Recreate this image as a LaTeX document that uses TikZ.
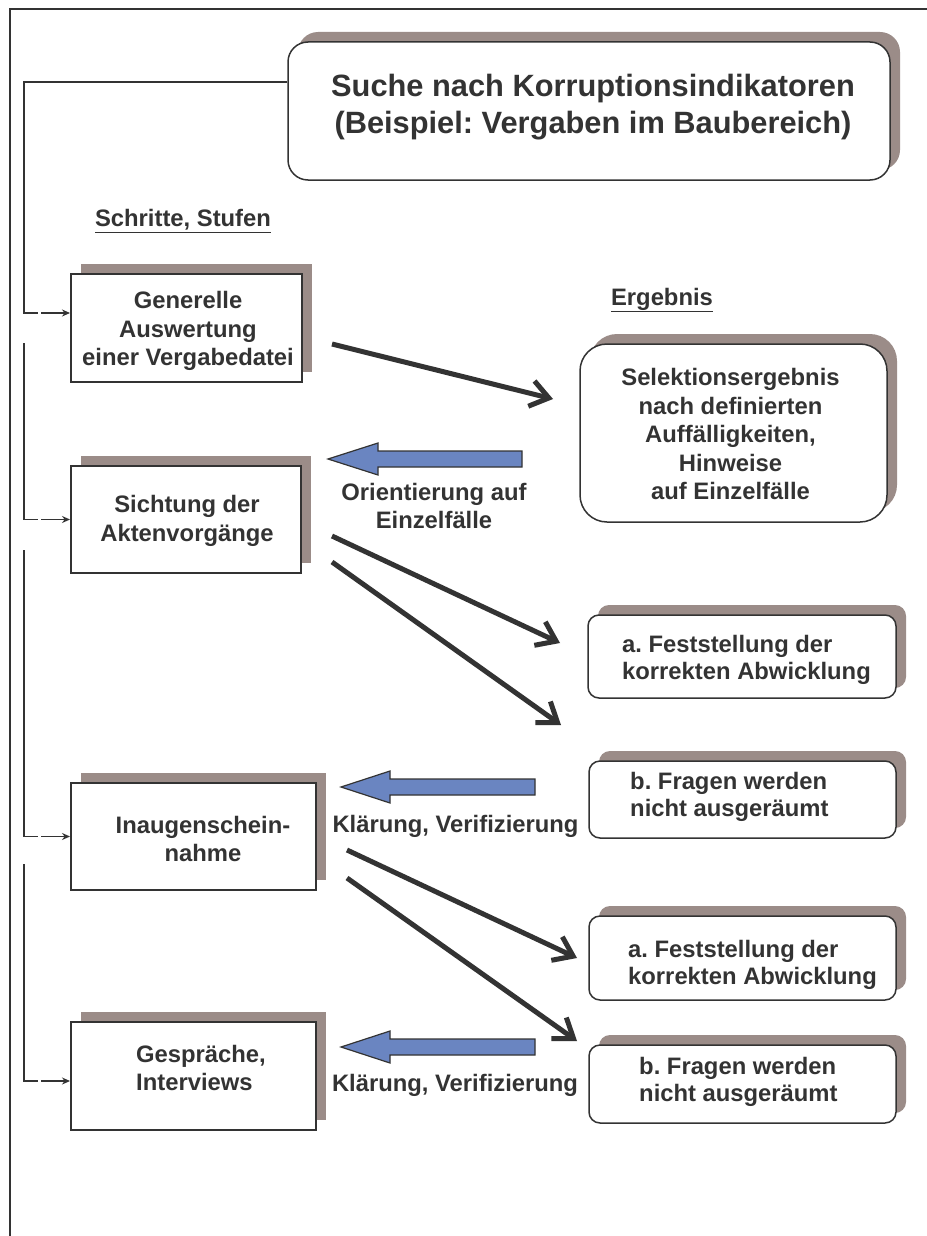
\documentclass[tikz,border=0pt]{standalone}
\usepackage{fontspec}
\setmainfont{Liberation Sans}
\usetikzlibrary{arrows.meta,shadows,calc}
\definecolor{ink}{HTML}{333333}
\definecolor{shade}{HTML}{9B8C88}
\definecolor{bluefill}{HTML}{6A85C1}
\frenchspacing
\begin{document}
\begin{tikzpicture}[x=1pt,y=-1pt,
  txt/.style={font=\fontsize{23.8}{28.5}\selectfont\bfseries\frenchspacing, text=ink, inner sep=0pt},
  abtxt/.style={font=\fontsize{23.8}{27}\selectfont\bfseries\frenchspacing, text=ink, inner sep=0pt, align=left, anchor=west},
  shd/.style={drop shadow={shadow xshift=10pt, shadow yshift=10pt, fill=shade, opacity=1}},
  stepbox/.style={shd, draw=ink, line width=2pt, fill=white, inner sep=0pt},
  resbox/.style={shd, draw=ink, line width=1.5pt, fill=white, inner sep=0pt, rounded corners=#1},
  conn/.style={draw=ink, line width=1.5pt},
  connarrow/.style={draw=ink, line width=1.5pt, -{Stealth[length=8pt,width=7pt]}},
  bigarrow/.style={draw=ink, line width=5pt, -{Straight Barb[length=18pt,width=26pt]}},
  bluearr/.style={draw=ink, line width=1.2pt, fill=bluefill, line join=miter}
]
\useasboundingbox (0,0) rectangle (926,1236);
\fill[white] (0,0) rectangle (926,1236);
% outer frame
\draw[ink, line width=2pt] (10,1240) -- (10,9) -- (930,9);

% title
\node[resbox=20pt, minimum width=602pt, minimum height=138pt] (title) at (589,111) {};
\node[txt, font=\fontsize{30.8}{37}\selectfont\bfseries\frenchspacing, align=center] (titletxt) at (593,107)
  {Suche nach Korruptionsindikatoren\\(Beispiel: Vergaben im Baubereich)};

% headers
\node[txt] (hdr1) at (183,221) {\underline{Schritte, Stufen}};
\node[txt] (hdr2) at (662,300) {\underline{Ergebnis}};

% step boxes
\node[stepbox, minimum width=231pt, minimum height=108pt] (gen) at (186.5,328) {};
\node[txt, align=center] (gentxt) at (188,331) {Generelle\\Auswertung\\einer Vergabedatei};
\node[stepbox, minimum width=230pt, minimum height=107pt] (sicht) at (186,519.5) {};
\node[txt, align=center] (sichttxt) at (187,521) {Sichtung der\\Aktenvorgänge};
\node[stepbox, minimum width=245pt, minimum height=107pt] (insp) at (193.5,836.5) {};
\node[txt, align=center] (insptxt) at (203,839) {Inaugenschein-\\nahme};
\node[stepbox, minimum width=245pt, minimum height=108pt] (gesp) at (193.5,1076) {};
\node[txt, align=left, anchor=west] (gesptxt) at (136,1068) {Gespräche,\\Interviews};

% result boxes
\node[resbox=27pt, minimum width=307pt, minimum height=178pt] (sel) at (733.5,433) {};
\node[txt, align=center] (seltxt) at (730.5,434)
  {Selektionsergebnis\\nach definierten\\Auffälligkeiten,\\Hinweise\\auf Einzelfälle};
\node[resbox=11pt, minimum width=308pt, minimum height=83pt] (a1) at (742,656.5) {};
\node[abtxt] (a1txt) at (622,660) {a. Feststellung der\\korrekten Abwicklung};
\node[resbox=11pt, minimum width=307pt, minimum height=77pt] (b1) at (742.5,799.5) {};
\node[abtxt] (b1txt) at (630,797) {b. Fragen werden\\nicht ausgeräumt};
\node[resbox=11pt, minimum width=307pt, minimum height=84pt] (a2) at (742.5,958) {};
\node[abtxt] (a2txt) at (628,965) {a. Feststellung der\\korrekten Abwicklung};
\node[resbox=11pt, minimum width=307pt, minimum height=78pt] (b2) at (742.5,1084) {};
\node[abtxt] (b2txt) at (639,1082) {b. Fragen werden\\nicht ausgeräumt};

% left connectors
\coordinate (k0) at (24,82);
\coordinate (k1) at (24,313);
\coordinate (k2s) at (24,343);
\coordinate (k2) at (24,519.5);
\coordinate (k3s) at (24,550);
\coordinate (k3) at (24,836.5);
\coordinate (k4s) at (24,864);
\coordinate (k4) at (24,1081);
\draw[conn] (title.west |- k0) -- (k0) -- (k1) -- ++(14,0);
\draw[connarrow] ($(k1)+(17,0)$) -- (gen.west |- k1);
\draw[conn] (k2s) -- (k2) -- ++(14,0);
\draw[connarrow] ($(k2)+(17,0)$) -- (sicht.west);
\draw[conn] (k3s) -- (k3) -- ++(14,0);
\draw[connarrow] ($(k3)+(17,0)$) -- (insp.west);
\draw[conn] (k4s) -- (k4) -- ++(14,0);
\draw[connarrow] ($(k4)+(17,0)$) -- (gesp.west |- k4);

% dark arrows
\coordinate (s1) at (332,344);  \coordinate (e1) at (553,399);
\coordinate (s2) at (332,536);  \coordinate (e2) at (560,643);
\coordinate (s3) at (332,562);  \coordinate (e3) at (561,725);
\coordinate (s4) at (347,850);  \coordinate (e4) at (577,958);
\coordinate (s5) at (347,878);  \coordinate (e5) at (577,1041);
\draw[bigarrow] (s1) -- (e1);
\draw[bigarrow] (s2) -- (e2);
\draw[bigarrow] (s3) -- (e3);
\draw[bigarrow] (s4) -- (e4);
\draw[bigarrow] (s5) -- (e5);

% blue arrows
\draw[bluearr] (522,451) -- (378,451) -- (378,443) -- (328,459) -- (378,475) -- (378,467) -- (522,467) -- cycle;
\draw[bluearr] (535,779) -- (390,779) -- (390,771) -- (341,787) -- (390,803) -- (390,795) -- (535,795) -- cycle;
\draw[bluearr] (535,1039) -- (390,1039) -- (390,1031) -- (341,1047) -- (390,1063) -- (390,1055) -- (535,1055) -- cycle;

% labels
\node[txt, align=center] (lab1) at (434,506) {Orientierung auf\\Einzelfälle};
\node[txt] (lab2) at (455.5,826) {Klärung, Verifizierung};
\node[txt] (lab3) at (455,1085) {Klärung, Verifizierung};
\end{tikzpicture}
\end{document}
